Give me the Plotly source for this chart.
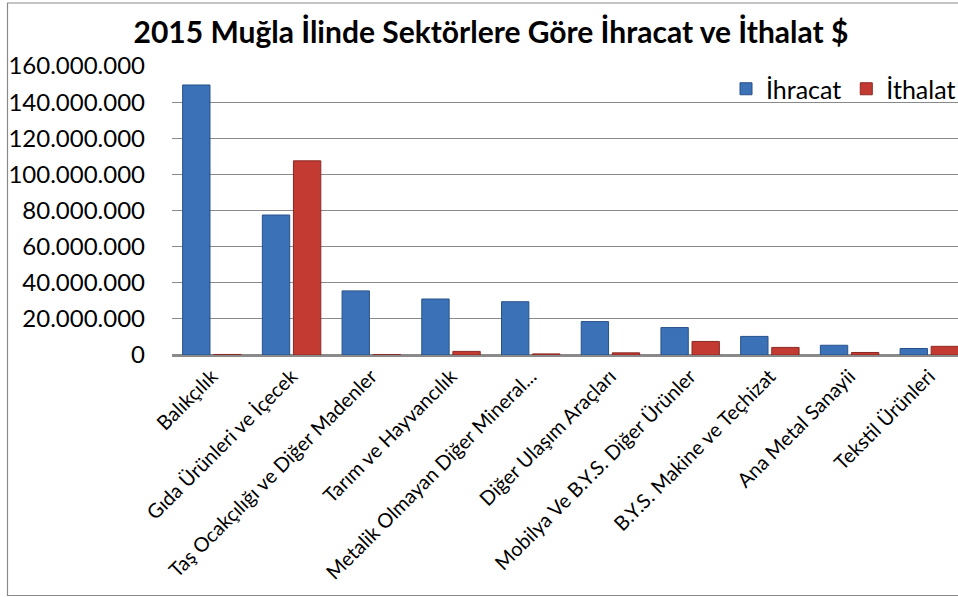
import plotly.graph_objects as go

categories = [
    "Balıkçılık",
    "Gıda Ürünleri ve İçecek",
    "Taş Ocakçılığı ve Diğer Madenler",
    "Tarım ve Hayvancılık",
    "Metalik Olmayan Diğer Mineral...",
    "Diğer Ulaşım Araçları",
    "Mobilya Ve B.Y.S. Diğer Ürünler",
    "B.Y.S. Makine ve Teçhizat",
    "Ana Metal Sanayii",
    "Tekstil Ürünleri",
]
ihracat = [149_500_000, 77_500_000, 35_500_000, 31_000_000, 29_500_000,
           18_500_000, 15_200_000, 10_300_000, 5_400_000, 3_600_000]
ithalat = [300_000, 107_500_000, 200_000, 2_000_000, 600_000,
           1_200_000, 7_500_000, 4_200_000, 1_400_000, 4_800_000]
y_ticks = [0, 20_000_000, 40_000_000, 60_000_000, 80_000_000,
           100_000_000, 120_000_000, 140_000_000, 160_000_000]

W, H = 958, 597
L, R, T, B = 172, 0, 66, 242
FONT = "Lato"

fig = go.Figure()
fig.add_trace(go.Bar(
    name="İhracat", x=categories, y=ihracat,
    marker=dict(color="#3b71b7", line=dict(color="#28518a", width=1)),
))
fig.add_trace(go.Bar(
    name="İthalat", x=categories, y=ithalat,
    marker=dict(color="#c23a32", line=dict(color="#8c2823", width=1)),
))

pw = W - L - R
ph = H - T - B
def px_x(p):
    return (p - L) / pw
def px_y(p):
    return (H - B - p) / ph

fig.add_shape(type="rect", xref="paper", yref="paper",
              x0=px_x(7.5), x1=px_x(1000), y0=px_y(3), y1=px_y(595.5),
              line=dict(color="#8a8a8a", width=1.2), fillcolor="rgba(0,0,0,0)",
              layer="below")

fig.update_layout(
    width=W, height=H,
    margin=dict(l=L, r=R, t=T, b=B, pad=0, autoexpand=False),
    paper_bgcolor="white", plot_bgcolor="white",
    separators=",.",
    font=dict(family=FONT, color="black"),
    barmode="group", bargap=0.22, bargroupgap=0.12,
    title=dict(text="<b>2015 Muğla İlinde Sektörlere Göre İhracat ve İthalat $</b>",
               x=491 / W, xref="container", xanchor="center",
               y=1 - 32 / H, yref="container", yanchor="middle",
               font=dict(family=FONT, size=30, color="black")),
    legend=dict(orientation="h", x=px_x(726), xanchor="left", y=px_y(89), yanchor="middle",
                font=dict(family=FONT, size=25, color="black"),
                bgcolor="rgba(255,255,255,0)", itemwidth=30, tracegroupgap=0),
    showlegend=True,
)
fig.update_xaxes(
    range=[-0.5, 9.36], showgrid=False, showline=True, linecolor="#8a8a8a",
    linewidth=1.5, ticks="", tickangle=-45, automargin=False,
    tickfont=dict(family=FONT, size=20, color="black"),
)
fig.update_yaxes(
    range=[0, 160_000_000], tickvals=y_ticks, tickformat=",d",
    showgrid=True, gridcolor="#8a8a8a", gridwidth=1.2,
    zeroline=True, zerolinecolor="#8a8a8a", zerolinewidth=1.5,
    showline=False, ticks="", ticklabelstandoff=26, automargin=False,
    tickfont=dict(family=FONT, size=24, color="black"),
)

fig.write_html(
    "out.html",
    config={"displayModeBar": False},
    post_script="document.body.style.margin='0';document.body.style.overflow='hidden';",
)
